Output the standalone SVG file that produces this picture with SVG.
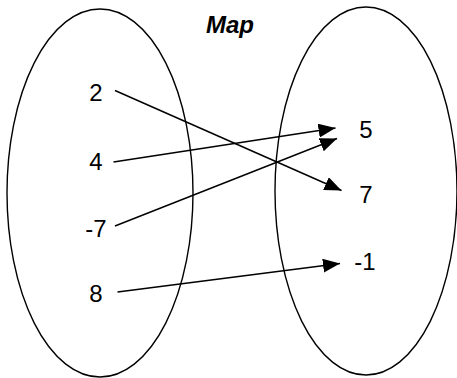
<svg xmlns="http://www.w3.org/2000/svg" width="457" height="378" viewBox="0 0 457 378">
<style>
.set{fill:none;stroke:#000;stroke-width:1.4}
.lbl{font-family:"Liberation Sans",Arial,sans-serif;font-size:24px;fill:#000;text-anchor:middle}
.title{font-family:"Liberation Sans",Arial,sans-serif;font-size:24px;font-weight:bold;font-style:italic;fill:#000;text-anchor:middle}
.arr{fill:none;stroke:#000;stroke-width:1.4;marker-end:url(#ah)}
</style>
<defs>
<marker id="ah" markerUnits="userSpaceOnUse" markerWidth="18" markerHeight="14" refX="17" refY="7" orient="auto">
<path d="M0,0 L17,7 L0,14 Z" fill="#000"/>
</marker>
</defs>
<rect width="457" height="378" fill="#fff"/>
<g id="title"><text class="title" x="230" y="33">Map</text></g>
<g id="domain"><ellipse class="set" cx="100" cy="193" rx="93" ry="184"/></g>
<g id="codomain"><ellipse class="set" cx="366" cy="191" rx="91" ry="184"/></g>
<g id="n2"><text class="lbl" x="96" y="101">2</text></g>
<g id="n4"><text class="lbl" x="96" y="170">4</text></g>
<g id="nm7"><text class="lbl" x="96" y="237">-7</text></g>
<g id="n8"><text class="lbl" x="96" y="302">8</text></g>
<g id="n5"><text class="lbl" x="366" y="138">5</text></g>
<g id="n7"><text class="lbl" x="366" y="203">7</text></g>
<g id="nm1"><text class="lbl" x="365" y="270">-1</text></g>
<g id="connectors">
<line class="arr" x1="115" y1="90.5" x2="341.5" y2="190.5"/>
<line class="arr" x1="113.5" y1="162" x2="335.5" y2="128"/>
<line class="arr" x1="115" y1="226" x2="337" y2="138.5"/>
<line class="arr" x1="117.5" y1="292" x2="340" y2="263.5"/>
</g>
</svg>
